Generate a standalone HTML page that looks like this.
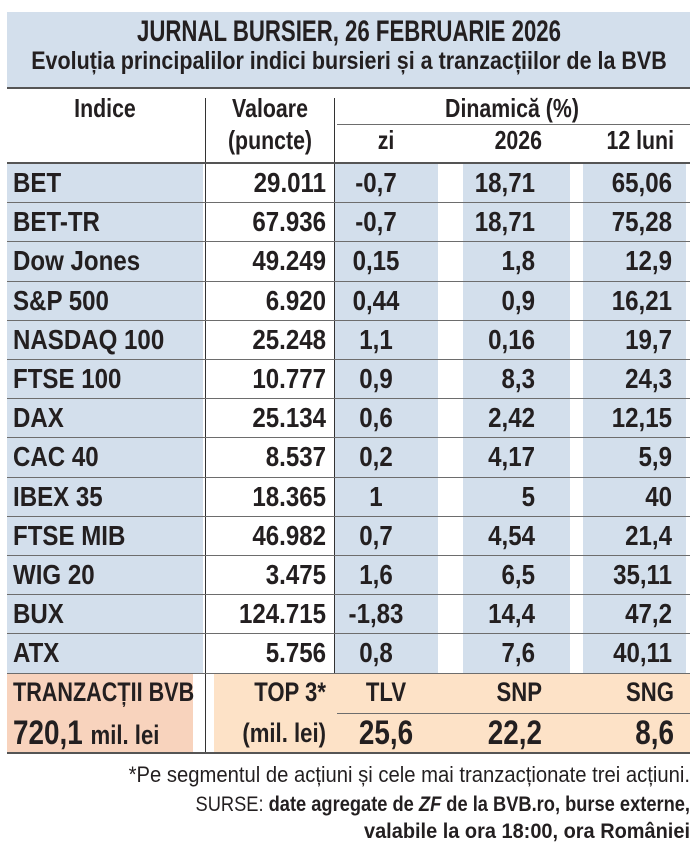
<!DOCTYPE html>
<html><head><meta charset="utf-8"><style>
body{margin:0;width:699px;height:852px;background:#fff;position:relative;overflow:hidden;font-family:"Liberation Sans",sans-serif;color:#231f20;font-weight:bold}
.a{position:absolute}
.t{position:absolute;white-space:nowrap;line-height:1;transform:scaleX(var(--s,1));transform-origin:left center}
.r{text-align:right;transform-origin:right center}
.c{text-align:center;transform-origin:center center}
.hl{position:absolute;height:1px;background:#6d6d6d}
</style></head><body>
<div class="a" style="left:7px;top:12px;width:683px;height:76px;background:#d3dfec"></div>
<div class="a" style="left:7px;top:87px;width:683px;height:2px;background:#555"></div>
<div class="t c" style="--s:0.74;left:-151px;width:1000px;top:17px;font-size:30px">JURNAL BURSIER, 26 FEBRUARIE 2026</div>
<div class="t c" style="--s:0.86;left:-151px;width:1000px;top:49px;font-size:25px">Evoluția principalilor indici bursieri și a tranzacțiilor de la BVB</div>

<div class="t c" style="--s:0.82;left:7px;width:196px;top:95px;font-size:26px">Indice</div>
<div class="t c" style="--s:0.82;left:206px;width:128px;top:95px;font-size:26px">Valoare</div>
<div class="t c" style="--s:0.82;left:206px;width:128px;top:127px;font-size:26px">(puncte)</div>
<div class="t c" style="--s:0.82;left:334px;width:356px;top:95px;font-size:26px">Dinamică (%)</div>
<div class="hl" style="left:337px;width:353px;top:124px"></div>
<div class="t c" style="--s:0.82;left:334px;width:104px;top:127px;font-size:26px">zi</div>
<div class="t r" style="--s:0.82;left:440px;width:102px;top:127px;font-size:26px">2026</div>
<div class="t r" style="--s:0.82;left:570px;width:104px;top:127px;font-size:26px">12 luni</div>
<div class="a" style="left:205px;top:98px;width:1px;height:655px;background:#333"></div>
<div class="a" style="left:334px;top:98px;width:1px;height:575px;background:#333"></div>

<div id="rows"></div>

<div class="a" style="left:7px;top:674px;width:186px;height:79px;background:#f8d3bd"></div>
<div class="a" style="left:214px;top:674px;width:476px;height:79px;background:#fde2c7"></div>
<div class="a" style="left:7px;top:752px;width:683px;height:2px;background:#555"></div>
<div class="hl" style="left:337px;width:353px;top:713px"></div>
<div class="t" style="--s:0.8;left:13px;top:679px;font-size:27px">TRANZACȚII BVB</div>
<div class="t" style="--s:0.82;left:13px;top:716px;font-size:34px">720,1 <span style="font-size:27px">mil. lei</span></div>
<div class="t r" style="--s:0.82;left:206px;width:120px;top:679px;font-size:27px">TOP 3*</div>
<div class="t r" style="--s:0.82;left:206px;width:120px;top:720px;font-size:27px">(mil. lei)</div>
<div class="t c" style="--s:0.82;left:334px;width:104px;top:679px;font-size:27px">TLV</div>
<div class="t c" style="--s:0.82;left:334px;width:104px;top:716px;font-size:34px">25,6</div>
<div class="t r" style="--s:0.82;left:440px;width:102px;top:679px;font-size:27px">SNP</div>
<div class="t r" style="--s:0.82;left:440px;width:102px;top:716px;font-size:34px">22,2</div>
<div class="t r" style="--s:0.82;left:570px;width:104px;top:679px;font-size:27px">SNG</div>
<div class="t r" style="--s:0.82;left:570px;width:104px;top:716px;font-size:34px">8,6</div>

<div class="t r" style="--s:0.92;left:0;width:690px;top:764px;font-size:22px;font-weight:normal">*Pe segmentul de acțiuni și cele mai tranzacționate trei acțiuni.</div>
<div class="t r" style="--s:0.87;left:0;width:690px;top:794px;font-size:21px"><span style="font-weight:normal">SURSE: </span>date agregate de <i>ZF</i> de la BVB.ro, burse externe,</div>
<div class="t r" style="--s:0.95;left:0;width:690px;top:821px;font-size:21px">valabile la ora 18:00, ora României</div>

<script>
var d=[["BET","29.011","-0,7","18,71","65,06"],["BET-TR","67.936","-0,7","18,71","75,28"],["Dow Jones","49.249","0,15","1,8","12,9"],["S&amp;P 500","6.920","0,44","0,9","16,21"],["NASDAQ 100","25.248","1,1","0,16","19,7"],["FTSE 100","10.777","0,9","8,3","24,3"],["DAX","25.134","0,6","2,42","12,15"],["CAC 40","8.537","0,2","4,17","5,9"],["IBEX 35","18.365","1","5","40"],["FTSE MIB","46.982","0,7","4,54","21,4"],["WIG 20","3.475","1,6","6,5","35,11"],["BUX","124.715","-1,83","14,4","47,2"],["ATX","5.756","0,8","7,6","40,11"]];
var h="",rh=39.2,y0=163,fs='font-size:28px;--s:0.86;';
for(var i=0;i<d.length;i++){var y=y0+i*rh,ty=y+6;
h+='<div class="a" style="left:7px;top:'+y+'px;width:196px;height:'+rh+'px;background:#d3dfec"></div>';
h+='<div class="a" style="left:335px;top:'+y+'px;width:103px;height:'+rh+'px;background:#d3dfec"></div>';
h+='<div class="a" style="left:463px;top:'+y+'px;width:107px;height:'+rh+'px;background:#d3dfec"></div>';
h+='<div class="a" style="left:583px;top:'+y+'px;width:103px;height:'+rh+'px;background:#d3dfec"></div>';
h+='<div class="t" style="'+fs+'left:13px;top:'+ty+'px">'+d[i][0]+'</div>';
h+='<div class="t r" style="'+fs+'left:206px;width:120px;top:'+ty+'px">'+d[i][1]+'</div>';
h+='<div class="t c" style="'+fs+'left:334px;width:84px;top:'+ty+'px">'+d[i][2]+'</div>';
h+='<div class="t r" style="'+fs+'left:440px;width:95px;top:'+ty+'px">'+d[i][3]+'</div>';
h+='<div class="t r" style="'+fs+'left:570px;width:102px;top:'+ty+'px">'+d[i][4]+'</div>';
if(i>0)h+='<div class="hl" style="left:7px;width:683px;top:'+y+'px"></div>';}
h+='<div class="a" style="left:7px;top:162px;width:683px;height:2px;background:#555"></div>';
h+='<div class="a" style="left:7px;top:673px;width:683px;height:1px;background:#6d6d6d"></div>';
document.getElementById("rows").innerHTML=h;
</script>
</body></html>
